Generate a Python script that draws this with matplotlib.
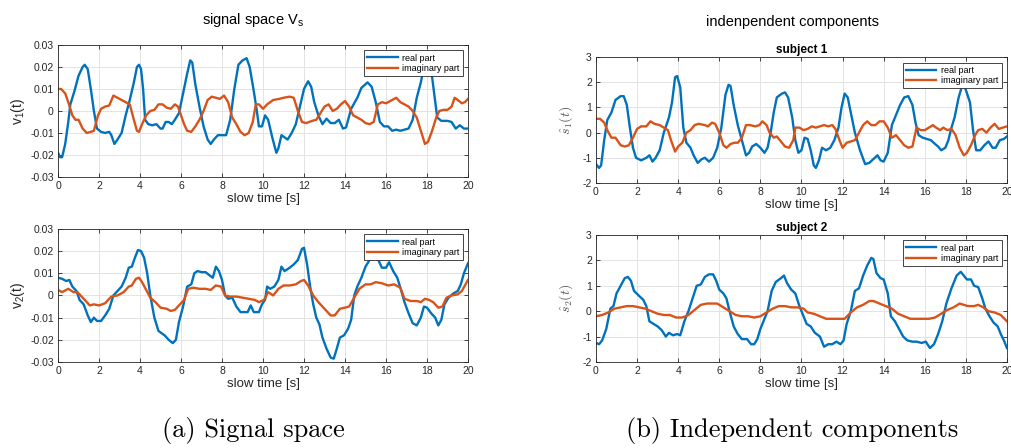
import numpy as np
import matplotlib
matplotlib.use("Agg")
import matplotlib.pyplot as plt
from matplotlib.ticker import FuncFormatter

plt.rcParams['font.family'] = ['Liberation Sans', 'DejaVu Sans']
plt.rcParams['mathtext.fontset'] = 'custom'
plt.rcParams['mathtext.rm'] = 'Liberation Sans'
plt.rcParams['mathtext.it'] = 'Liberation Sans:italic'
plt.rcParams['axes.unicode_minus'] = False

# --- signal space, v1 ---
t_v1_re = [0, 0.1, 0.2, 0.35, 0.5, 0.6, 0.8, 1.0, 1.2, 1.3, 1.45, 1.6, 1.75, 1.9, 2.1, 2.3, 2.5, 2.6, 2.75, 2.9,
           3.1, 3.3, 3.5, 3.7, 3.85, 3.95, 4.05, 4.15, 4.25, 4.4, 4.6, 4.8, 5.0, 5.1, 5.25, 5.4, 5.55, 5.7, 5.9,
           6.1, 6.3, 6.45, 6.55, 6.7, 6.9, 7.1, 7.3, 7.45, 7.6, 7.8, 8.0, 8.2, 8.4, 8.6, 8.8, 9.0, 9.2, 9.35,
           9.55, 9.7, 9.8, 9.95, 10.1, 10.25, 10.45, 10.65, 10.75, 10.9, 11.05, 11.2, 11.4, 11.6, 11.8, 12.0,
           12.2, 12.35, 12.5, 12.7, 12.9, 13.1, 13.3, 13.5, 13.7, 13.9, 14.05, 14.3, 14.6, 14.8, 15.1, 15.3,
           15.5, 15.7, 15.9, 16.1, 16.3, 16.5, 16.7, 16.9, 17.1, 17.3, 17.5, 17.7, 17.85, 18.0, 18.2, 18.35,
           18.5, 18.7, 19.0, 19.2, 19.4, 19.6, 19.8, 20.0]
v1_re = [-0.019, -0.021, -0.021, -0.015, -0.005, 0.003, 0.009, 0.016, 0.020, 0.021, 0.019, 0.010, 0.000, -0.008,
         -0.0095, -0.010, -0.0095, -0.011, -0.015, -0.013, -0.010, -0.002, 0.005, 0.013, 0.020, 0.021, 0.019,
         0.010, -0.004, -0.006, -0.0065, -0.006, -0.008, -0.008, -0.005, -0.005, -0.006, -0.004, -0.001,
         0.008, 0.017, 0.023, 0.022, 0.012, 0.002, -0.007, -0.013, -0.015, -0.013, -0.011, -0.011, -0.011,
         -0.004, 0.010, 0.021, 0.023, 0.024, 0.020, 0.009, 0.000, -0.007, -0.007, -0.002, -0.004, -0.012,
         -0.019, -0.017, -0.011, -0.012, -0.013, -0.010, -0.006, 0.002, 0.010, 0.0135, 0.011, 0.004, -0.002,
         -0.006, -0.0035, -0.0055, -0.0055, -0.004, -0.008, -0.0075, 0.001, 0.006, 0.0105, 0.013, 0.011,
         0.004, -0.005, -0.007, -0.007, -0.009, -0.0085, -0.009, -0.0085, -0.008, -0.004, 0.006, 0.013,
         0.020, 0.025, 0.019, 0.008, -0.003, -0.0045, -0.0045, -0.005, -0.008, -0.0065, -0.008, -0.008]
t_v1_im = [0, 0.15, 0.35, 0.5, 0.7, 0.85, 1.0, 1.2, 1.4, 1.6, 1.75, 1.95, 2.1, 2.3, 2.5, 2.7, 2.9, 3.1, 3.3, 3.5,
           3.7, 3.85, 3.95, 4.1, 4.3, 4.5, 4.7, 4.9, 5.1, 5.3, 5.5, 5.7, 5.85, 6.0, 6.15, 6.3, 6.5, 6.7, 6.9,
           7.1, 7.3, 7.5, 7.7, 7.9, 8.1, 8.3, 8.5, 8.7, 8.9, 9.1, 9.3, 9.5, 9.65, 9.8, 10.0, 10.2, 10.5, 10.8,
           11.0, 11.3, 11.5, 11.7, 11.9, 12.1, 12.4, 12.6, 12.8, 13.0, 13.2, 13.4, 13.6, 13.8, 14.0, 14.2,
           14.4, 14.6, 14.8, 15.0, 15.2, 15.4, 15.6, 15.8, 16.0, 16.3, 16.5, 16.7, 16.9, 17.1, 17.3, 17.5,
           17.7, 17.9, 18.05, 18.25, 18.45, 18.6, 18.8, 19.0, 19.2, 19.35, 19.5, 19.7, 19.85, 20.0]
v1_im = [0.010, 0.010, 0.008, 0.004, -0.002, -0.004, -0.004, -0.008, -0.010, -0.0095, -0.009, -0.002, 0.001,
         0.002, 0.0025, 0.007, 0.006, 0.005, 0.004, 0.003, -0.004, -0.009, -0.0095, -0.006, -0.002, 0.000,
         0.0005, 0.003, 0.003, 0.0015, 0.001, 0.003, 0.002, -0.002, -0.006, -0.009, -0.0095, -0.007, -0.004,
         0.000, 0.005, 0.0065, 0.006, 0.0055, 0.007, 0.004, -0.003, -0.006, -0.0095, -0.011, -0.010, -0.005,
         0.003, 0.003, 0.001, 0.003, 0.005, 0.0055, 0.006, 0.0065, 0.006, 0.000, -0.005, -0.0055, -0.0045,
         -0.004, -0.001, 0.002, 0.003, 0.000, 0.001, 0.003, 0.0045, 0.002, -0.002, -0.003, -0.004, -0.0055,
         -0.006, -0.005, 0.003, 0.004, 0.0035, 0.005, 0.006, 0.004, 0.003, 0.002, 0.000, -0.003, -0.009,
         -0.015, -0.014, -0.009, -0.003, 0.000, 0.0005, 0.0005, 0.002, 0.006, 0.005, 0.0035, 0.004, 0.0055]

# --- signal space, v2 ---
t_v2_re = [0, 0.2, 0.4, 0.55, 0.7, 0.9, 1.05, 1.25, 1.45, 1.6, 1.75, 1.9, 2.1, 2.3, 2.5, 2.7, 2.9, 3.1, 3.3,
           3.45, 3.6, 3.75, 3.9, 4.05, 4.2, 4.35, 4.5, 4.7, 4.9, 5.05, 5.2, 5.4, 5.6, 5.75, 5.9, 6.1, 6.3, 6.5,
           6.65, 6.8, 7.0, 7.2, 7.4, 7.55, 7.7, 7.85, 8.0, 8.15, 8.3, 8.5, 8.7, 8.9, 9.1, 9.25, 9.4, 9.55, 9.8,
           9.95, 10.1, 10.2, 10.35, 10.55, 10.75, 10.9, 11.05, 11.3, 11.5, 11.7, 11.9, 12.0, 12.15, 12.3,
           12.45, 12.6, 12.75, 12.9, 13.1, 13.3, 13.45, 13.6, 13.75, 13.95, 14.15, 14.3, 14.45, 14.6, 14.8,
           15.0, 15.2, 15.4, 15.6, 15.8, 16.0, 16.15, 16.35, 16.55, 16.75, 16.9, 17.1, 17.3, 17.5, 17.7,
           17.85, 18.0, 18.2, 18.4, 18.55, 18.7, 18.85, 19.05, 19.3, 19.5, 19.65, 19.8, 20.0]
v2_re = [0.008, 0.0075, 0.0065, 0.007, 0.004, 0.002, -0.002, -0.004, -0.009, -0.012, -0.010, -0.0115, -0.0115,
         -0.009, -0.006, 0.000, 0.002, 0.004, 0.008, 0.0125, 0.013, 0.017, 0.0205, 0.020, 0.017, 0.010, 0.000,
         -0.010, -0.016, -0.017, -0.018, -0.020, -0.0215, -0.020, -0.012, -0.005, 0.004, 0.005, 0.010, 0.011,
         0.0105, 0.0105, 0.009, 0.008, 0.013, 0.011, 0.007, 0.000, -0.0015, -0.001, -0.005, -0.0075, -0.0075,
         -0.0075, -0.0045, -0.0075, -0.0075, -0.004, -0.002, 0.004, 0.003, 0.004, 0.007, 0.013, 0.011,
         0.0125, 0.014, 0.016, 0.021, 0.0215, 0.014, 0.004, -0.004, -0.010, -0.013, -0.019, -0.024, -0.028,
         -0.0285, -0.024, -0.019, -0.018, -0.015, -0.011, 0.000, 0.004, 0.008, 0.013, 0.016, 0.018, 0.0165,
         0.0125, 0.0125, 0.015, 0.011, 0.008, 0.002, -0.003, -0.008, -0.0125, -0.0135, -0.010, -0.005,
         -0.0055, -0.008, -0.010, -0.0135, -0.011, -0.004, -0.001, 0.001, 0.002, 0.005, 0.010, 0.0145]
t_v2_im = [0, 0.2, 0.5, 0.75, 0.95, 1.1, 1.3, 1.55, 1.75, 2.0, 2.3, 2.6, 2.9, 3.2, 3.45, 3.6, 3.8, 3.95, 4.1,
           4.3, 4.5, 4.75, 5.0, 5.3, 5.5, 5.7, 5.95, 6.15, 6.35, 6.6, 6.9, 7.2, 7.45, 7.7, 7.95, 8.15, 8.4,
           8.7, 9.0, 9.3, 9.6, 9.8, 10.05, 10.25, 10.5, 10.75, 11.0, 11.3, 11.6, 11.85, 12.0, 12.2, 12.45,
           12.7, 13.0, 13.3, 13.5, 13.75, 14.0, 14.2, 14.45, 14.7, 15.0, 15.25, 15.5, 15.8, 16.1, 16.4, 16.7,
           16.9, 17.2, 17.5, 17.7, 17.9, 18.1, 18.3, 18.55, 18.75, 18.95, 19.2, 19.5, 19.7, 20.0]
v2_im = [0.0025, 0.0015, 0.003, 0.0015, 0.0015, 0.000, -0.002, -0.0045, -0.004, -0.0045, -0.0035, -0.0005,
         0.000, 0.0015, 0.004, 0.0045, 0.0075, 0.008, 0.006, 0.0025, -0.001, -0.003, -0.0055, -0.006, -0.007,
         -0.0065, -0.004, -0.002, 0.003, 0.0035, 0.003, 0.003, 0.0025, 0.0045, 0.004, 0.000, -0.0005, -0.0005,
         -0.001, -0.0015, -0.002, -0.003, -0.002, 0.0015, 0.000, 0.003, 0.0045, 0.0045, 0.005, 0.0065, 0.007,
         0.0045, 0.000, -0.003, -0.006, -0.009, -0.009, -0.006, -0.0055, -0.005, -0.001, 0.003, 0.005, 0.005,
         0.006, 0.0055, 0.0045, 0.005, 0.0035, -0.0015, -0.0025, -0.0025, -0.003, -0.0015, -0.002, -0.003,
         -0.0055, -0.005, -0.001, 0.000, 0.0005, 0.002, 0.007]

# --- independent components, subject 1 ---
t_s1_re = [0, 0.15, 0.25, 0.4, 0.55, 0.75, 0.95, 1.2, 1.35, 1.5, 1.65, 1.8, 1.95, 2.2, 2.45, 2.6, 2.75, 2.9,
           3.1, 3.3, 3.55, 3.7, 3.85, 3.95, 4.1, 4.25, 4.4, 4.6, 4.75, 4.95, 5.15, 5.3, 5.5, 5.7, 5.9, 6.1,
           6.3, 6.45, 6.55, 6.7, 6.9, 7.1, 7.3, 7.45, 7.6, 7.8, 8.0, 8.2, 8.35, 8.5, 8.65, 8.8, 9.05, 9.2,
           9.35, 9.55, 9.7, 9.85, 10.0, 10.15, 10.3, 10.45, 10.6, 10.7, 10.85, 11.0, 11.2, 11.4, 11.6, 11.8,
           11.95, 12.1, 12.25, 12.4, 12.6, 12.85, 13.1, 13.3, 13.5, 13.7, 13.85, 14.0, 14.2, 14.4, 14.6,
           14.8, 15.0, 15.2, 15.4, 15.55, 15.7, 15.9, 16.1, 16.3, 16.5, 16.65, 16.8, 17.0, 17.15, 17.3,
           17.45, 17.65, 17.85, 18.0, 18.2, 18.35, 18.5, 18.7, 18.9, 19.1, 19.3, 19.45, 19.65, 19.85, 20.0]
s1_re = [-1.25, -1.4, -1.3, -0.3, 0.5, 0.8, 1.3, 1.45, 1.45, 1.1, 0.2, -0.6, -1.0, -1.1, -1.0, -0.9, -1.15,
         -1.0, -0.7, 0.0, 0.6, 1.2, 2.2, 2.25, 1.8, 0.2, -0.4, -0.6, -0.9, -1.2, -1.05, -1.0, -1.15, -1.0,
         -0.6, 0.2, 1.5, 1.9, 1.85, 1.1, 0.3, -0.3, -0.9, -0.8, -0.55, -0.45, -0.6, -0.8, -0.6, 0.0, 0.8,
         1.4, 1.55, 1.6, 1.4, 0.6, -0.3, -0.8, -0.7, -0.2, -0.25, -0.7, -1.3, -1.4, -1.1, -0.6, -0.7, -0.6,
         -0.3, 0.2, 1.0, 1.55, 1.4, 0.8, 0.0, -0.7, -1.25, -1.2, -1.05, -0.9, -1.1, -1.15, -0.8, 0.3, 0.7,
         1.1, 1.4, 1.45, 1.1, 0.4, -0.1, -0.2, -0.25, -0.3, -0.45, -0.55, -0.7, -0.6, -0.3, 0.2, 0.6, 1.4,
         1.95, 1.7, 1.2, 0.1, -0.7, -0.7, -0.5, -0.35, -0.6, -0.6, -0.3, -0.25, -0.15]
t_s1_im = [0, 0.2, 0.4, 0.55, 0.75, 0.95, 1.2, 1.4, 1.6, 1.8, 2.0, 2.2, 2.45, 2.65, 2.85, 3.1, 3.3, 3.5, 3.65,
           3.85, 4.0, 4.2, 4.4, 4.6, 4.8, 5.0, 5.3, 5.45, 5.65, 5.8, 6.0, 6.2, 6.35, 6.55, 6.75, 6.9, 7.1,
           7.3, 7.5, 7.75, 7.95, 8.1, 8.3, 8.45, 8.65, 8.8, 9.0, 9.2, 9.4, 9.6, 9.7, 9.9, 10.1, 10.3, 10.5,
           10.7, 10.9, 11.1, 11.3, 11.5, 11.65, 11.85, 12.0, 12.2, 12.4, 12.6, 12.8, 13.0, 13.2, 13.4, 13.6,
           13.8, 14.0, 14.2, 14.4, 14.6, 14.8, 15.0, 15.2, 15.4, 15.6, 15.8, 16.0, 16.2, 16.4, 16.55, 16.75,
           16.9, 17.1, 17.3, 17.5, 17.7, 17.9, 18.05, 18.25, 18.45, 18.6, 18.8, 19.0, 19.2, 19.4, 19.6,
           19.8, 20.0]
s1_im = [0.55, 0.55, 0.4, 0.1, -0.2, -0.2, -0.5, -0.55, -0.5, -0.2, 0.15, 0.25, 0.25, 0.45, 0.35, 0.3, 0.2,
         0.1, -0.3, -0.75, -0.55, -0.4, 0.0, 0.1, 0.3, 0.35, 0.3, 0.25, 0.4, 0.35, 0.0, -0.5, -0.6, -0.45,
         -0.4, -0.4, -0.2, 0.3, 0.3, 0.25, 0.3, 0.45, 0.3, 0.0, -0.2, -0.15, -0.35, -0.55, -0.6, -0.3, 0.2,
         0.2, 0.1, 0.15, 0.25, 0.2, 0.25, 0.3, 0.25, 0.3, 0.15, -0.3, -0.6, -0.4, -0.35, -0.3, 0.0, 0.3,
         0.45, 0.3, 0.3, 0.45, 0.45, 0.2, -0.2, -0.1, -0.3, -0.5, -0.6, -0.55, 0.2, 0.1, 0.1, 0.2, 0.3, 0.2,
         0.1, 0.2, 0.1, 0.15, -0.1, -0.6, -0.9, -0.8, -0.5, -0.1, 0.1, 0.15, 0.0, 0.2, 0.35, 0.15, 0.2, 0.25]

# --- independent components, subject 2 ---
t_s2_re = [0, 0.15, 0.3, 0.5, 0.7, 0.85, 1.0, 1.2, 1.4, 1.55, 1.7, 1.85, 2.1, 2.3, 2.45, 2.6, 2.8, 3.0, 3.2,
           3.4, 3.55, 3.75, 3.95, 4.1, 4.3, 4.5, 4.7, 4.9, 5.1, 5.3, 5.5, 5.7, 5.85, 6.0, 6.2, 6.35, 6.5, 6.7,
           6.9, 7.1, 7.35, 7.55, 7.7, 7.85, 8.0, 8.2, 8.35, 8.55, 8.75, 9.0, 9.15, 9.3, 9.5, 9.7, 9.9, 10.1,
           10.25, 10.45, 10.65, 10.9, 11.1, 11.3, 11.5, 11.7, 11.9, 12.05, 12.2, 12.4, 12.6, 12.8, 13.0,
           13.2, 13.4, 13.5, 13.65, 13.85, 14.0, 14.2, 14.35, 14.55, 14.75, 14.95, 15.15, 15.4, 15.6, 15.85,
           16.05, 16.25, 16.45, 16.65, 16.85, 17.05, 17.3, 17.55, 17.75, 17.9, 18.05, 18.25, 18.4, 18.6,
           18.8, 18.95, 19.15, 19.35, 19.55, 19.7, 19.85, 20.0]
s2_re = [-1.25, -1.3, -1.15, -0.7, 0.1, 0.2, 0.7, 1.0, 1.3, 1.35, 1.2, 0.8, 0.6, 0.45, 0.2, -0.4, -0.5, -0.6,
         -0.75, -1.0, -0.85, -0.95, -0.9, -0.95, -0.4, 0.0, 0.5, 1.0, 1.05, 1.35, 1.45, 1.45, 1.2, 0.85,
         0.7, 0.5, 0.0, -0.6, -0.9, -1.1, -1.1, -1.3, -1.3, -1.1, -0.7, -0.3, 0.0, 0.8, 1.15, 1.3, 1.4,
         1.1, 0.85, 0.7, 0.2, -0.2, -0.5, -0.6, -0.85, -1.0, -1.4, -1.3, -1.3, -1.2, -1.3, -1.15, -0.5,
         0.0, 0.8, 0.9, 1.4, 1.8, 2.1, 2.05, 1.5, 1.3, 1.25, 0.7, -0.2, -0.4, -0.7, -1.0, -1.15, -1.2,
         -1.2, -1.25, -1.2, -1.45, -1.3, -0.9, -0.4, 0.3, 0.9, 1.4, 1.55, 1.4, 1.25, 1.25, 1.0, 0.95,
         0.5, 0.1, -0.2, -0.45, -0.6, -0.9, -1.15, -1.45]
t_s2_im = [0, 0.3, 0.6, 0.9, 1.2, 1.5, 1.8, 2.1, 2.4, 2.7, 3.0, 3.3, 3.6, 3.9, 4.2, 4.5, 4.8, 5.1, 5.4, 5.7,
           5.9, 6.2, 6.5, 6.8, 7.1, 7.4, 7.7, 8.0, 8.3, 8.6, 8.9, 9.2, 9.5, 9.8, 10.1, 10.3, 10.6, 10.9,
           11.2, 11.5, 11.8, 12.1, 12.4, 12.7, 13.0, 13.3, 13.5, 13.8, 14.1, 14.4, 14.7, 15.0, 15.3, 15.6,
           15.9, 16.2, 16.5, 16.8, 17.1, 17.4, 17.7, 17.9, 18.1, 18.4, 18.6, 18.85, 19.1, 19.4, 19.7, 20.0]
s2_im = [-0.2, -0.15, -0.05, 0.1, 0.15, 0.2, 0.2, 0.15, 0.1, 0.0, -0.1, -0.15, -0.15, -0.25, -0.25, -0.15,
         0.05, 0.25, 0.3, 0.3, 0.3, 0.15, 0.0, -0.15, -0.2, -0.2, -0.25, -0.2, -0.05, 0.1, 0.2, 0.2, 0.15,
         0.15, 0.1, -0.05, -0.1, -0.2, -0.3, -0.3, -0.3, -0.3, -0.05, 0.15, 0.25, 0.4, 0.4, 0.3, 0.2, 0.1,
         -0.1, -0.2, -0.3, -0.3, -0.3, -0.3, -0.25, -0.1, 0.05, 0.15, 0.3, 0.25, 0.2, 0.2, 0.25, 0.15, 0.0,
         -0.05, -0.15, -0.4]

x_ticks = list(range(0, 21, 2))
v_ticks = [-0.03, -0.02, -0.01, 0, 0.01, 0.02, 0.03]
s_ticks = [-2, -1, 0, 1, 2, 3]

blue = '#0072BD'
orange = '#D95319'


def style_axes(ax, yticks):
    ax.set_xlim(0, 20)
    ax.set_ylim(yticks[0], yticks[-1])
    ax.set_xticks(x_ticks)
    ax.set_yticks(yticks)
    ax.yaxis.set_major_formatter(FuncFormatter(lambda v, p: '%g' % round(v, 4)))
    ax.grid(True, color='#e3e3e3', linewidth=0.7)
    ax.set_axisbelow(True)
    ax.tick_params(direction='in', length=3, width=0.6, labelsize=7.5, colors='#262626',
                   top=True, right=True, pad=3)
    for s in ax.spines.values():
        s.set_color('#262626')
        s.set_linewidth(0.6)
    ax.set_xlabel('slow time [s]', fontsize=9.5, color='#262626', labelpad=1)


def draw(ax, t_re, re, t_im, im):
    ax.plot(t_re, re, color=blue, lw=1.7, label='real part')
    ax.plot(t_im, im, color=orange, lw=1.7, label='imaginary part')
    leg = ax.legend(loc='upper right', fontsize=6.5, fancybox=False, framealpha=1,
                    edgecolor='#262626', handlelength=3.4, borderaxespad=0.6,
                    borderpad=0.35, labelspacing=0.15, handletextpad=0.5)
    leg.get_frame().set_linewidth(0.6)


fig = plt.figure(figsize=(10.11, 4.48), dpi=100)

ax1 = fig.add_axes([0.0574, 0.605, 0.4055, 0.2946])
draw(ax1, t_v1_re, v1_re, t_v1_im, v1_im)
style_axes(ax1, v_ticks)
ax1.set_ylabel('v$_1$(t)', fontsize=10, color='#262626', labelpad=2)

ax2 = fig.add_axes([0.0574, 0.192, 0.4055, 0.297])
draw(ax2, t_v2_re, v2_re, t_v2_im, v2_im)
style_axes(ax2, v_ticks)
ax2.set_ylabel('v$_2$(t)', fontsize=10, color='#262626', labelpad=2)

ax3 = fig.add_axes([0.5895, 0.5915, 0.4065, 0.281])
draw(ax3, t_s1_re, s1_re, t_s1_im, s1_im)
style_axes(ax3, s_ticks)
ax3.set_ylabel(r'$\hat{s}_1(t)$', fontsize=10, color='#555555', math_fontfamily='cm', labelpad=5)
ax3.set_title('subject 1', fontsize=8.5, fontweight='bold', pad=3)

ax4 = fig.add_axes([0.5895, 0.192, 0.4065, 0.2835])
draw(ax4, t_s2_re, s2_re, t_s2_im, s2_im)
style_axes(ax4, s_ticks)
ax4.set_ylabel(r'$\hat{s}_2(t)$', fontsize=10, color='#555555', math_fontfamily='cm', labelpad=5)
ax4.set_title('subject 2', fontsize=8.5, fontweight='bold', pad=3)

fig.text(0.2505, 0.955, 'signal space V$_\\mathregular{s}$', fontsize=10.5, ha='center', va='center')
fig.text(0.7835, 0.95, 'indenpendent components', fontsize=10.5, ha='center', va='center')

fig.text(0.2505, 0.04, '(a) Signal space', fontsize=19, family='cmr10', ha='center', va='center')
fig.text(0.7835, 0.04, '(b) Independent components', fontsize=19, family='cmr10', ha='center', va='center')

fig.savefig('out.png', dpi=100)
